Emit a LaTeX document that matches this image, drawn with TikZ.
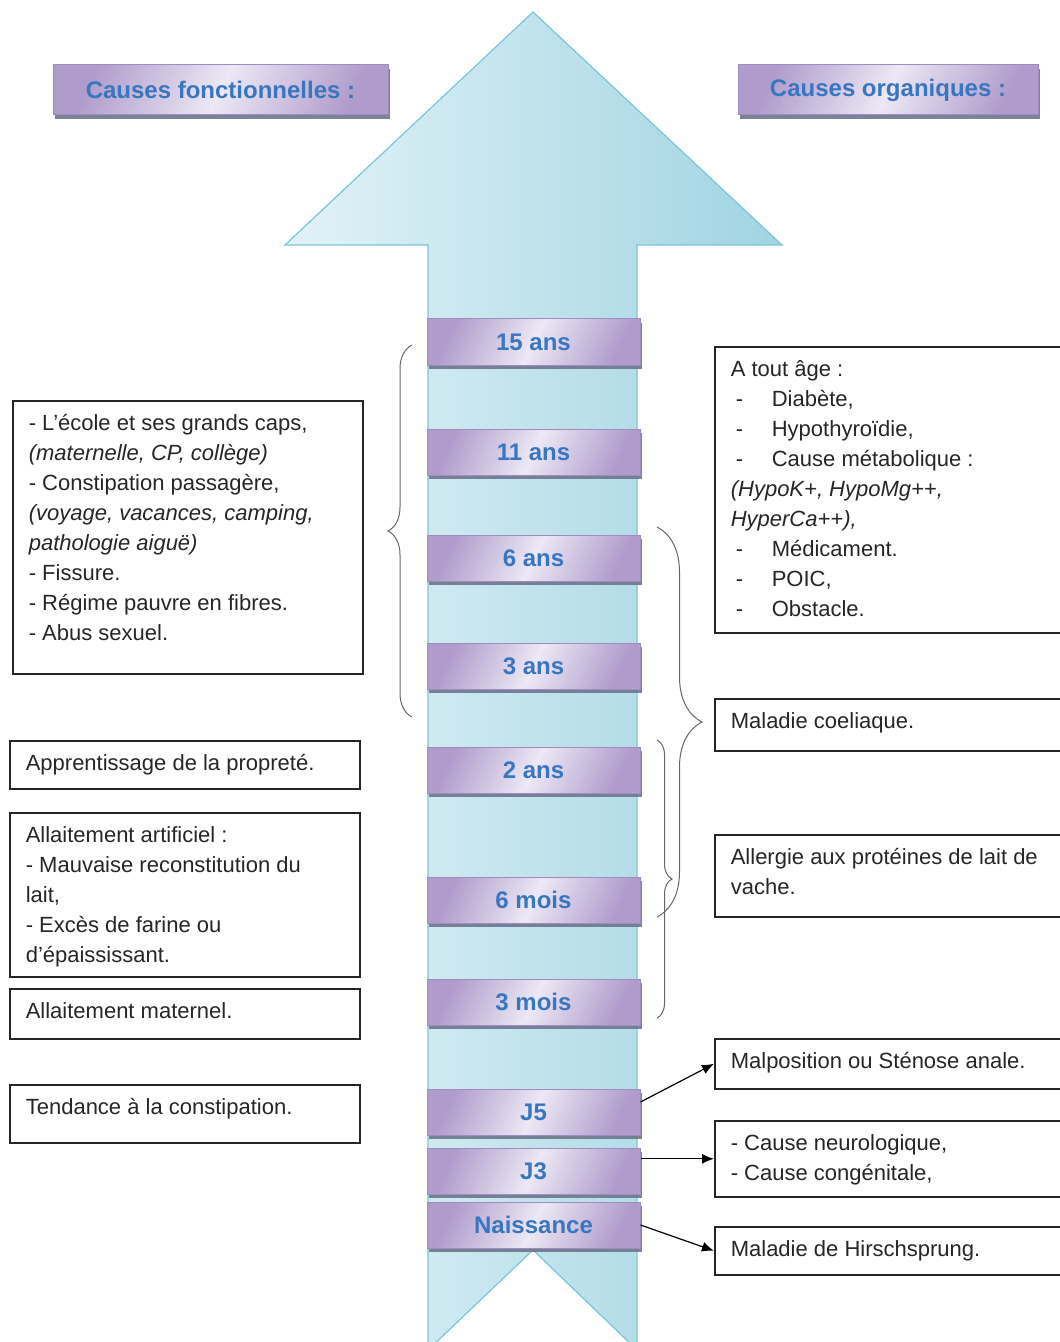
\documentclass[tikz,border=0pt]{standalone}
\usepackage{fontspec}
\setmainfont{Liberation Sans}
\usepackage{tikz}
\usetikzlibrary{arrows.meta,positioning,calc,decorations.pathreplacing,shadows}
\usepackage{xcolor}

\definecolor{arrowlight}{RGB}{226,242,247}
\definecolor{arrowdark}{RGB}{160,212,226}
\definecolor{arrowedge}{RGB}{122,199,216}
\definecolor{agelight}{RGB}{236,232,244}
\definecolor{agedark}{RGB}{176,156,204}
\definecolor{ageedge}{RGB}{160,140,192}
\definecolor{ageshadow}{RGB}{108,118,140}
\definecolor{agetext}{RGB}{56,118,192}

\newcommand{\boxtxt}[2]{\parbox[t][#1][t]{159pt}{\raggedright\strut#2}}
\newcommand{\tiret}{\makebox[20.5pt][l]{\hspace{2.5pt}-}}

\begin{document}
\begin{tikzpicture}[
    x=0.5pt, y=-0.5pt,
    age/.style={rectangle, draw=ageedge, line width=0.5pt, left color=agedark, right color=agedark, middle color=agelight, shading angle=65, minimum width=106.5pt, minimum height=23pt, inner sep=0pt, font=\fontsize{12}{14}\selectfont\bfseries, text=agetext, drop shadow={shadow xshift=0.8pt, shadow yshift=-2pt, fill=ageshadow, opacity=0.9}},
    cause/.style={rectangle, draw=black!85, line width=0.8pt, anchor=north west, inner xsep=8pt, inner ysep=4.5pt, font=\fontsize{11}{15}\selectfont, text=black!85},
    arrow/.style={-{Latex[length=6pt,width=5pt]}, line width=0.6pt},
    curly/.style={decorate, decoration={brace, amplitude=#1}, draw=black!60, line width=0.5pt}
]
\useasboundingbox (0,0) rectangle (1059,1342);

% Big arrow
\draw[draw=arrowedge, line width=0.6pt, left color=arrowlight, right color=arrowdark]
    (533,12) -- (782,245) -- (637,245) -- (637,1350) -- (533,1250) -- (428,1350) -- (428,245) -- (285,245) -- cycle;

% Headers
\node[age, minimum width=167.5pt, minimum height=25pt] (fonct) at (220.5,90) {Causes fonctionnelles :};
\node[age, minimum width=150pt, minimum height=25pt] (orga) at (888,90) {Causes organiques :};

% Ages
\node[age] (a15) at (533.5,342) {15 ans};
\node[age] (a11) at (533.5,452) {11 ans};
\node[age] (a6) at (533.5,558) {6 ans};
\node[age] (a3) at (533.5,666) {3 ans};
\node[age] (a2) at (533.5,770) {2 ans};
\node[age] (m6) at (533.5,900) {6 mois};
\node[age] (m3) at (533.5,1002) {3 mois};
\node[age] (j5) at (533.5,1112) {J5};
\node[age] (j3) at (533.5,1171) {J3};
\node[age] (nais) at (533.5,1225) {Naissance};

% Functional causes
\node[cause] (ecole) at (12,400) {\boxtxt{127.5pt}{- L’école et ses grands caps,\\
    \textit{(maternelle, CP, collège)}\\
    - Constipation passagère,\\
    \textit{(voyage, vacances, camping,}\\
    \textit{pathologie aiguë)}\\
    - Fissure.\\
    - Régime pauvre en fibres.\\
    - Abus sexuel.}};
\node[cause] (proprete) at (9,740) {\boxtxt{15pt}{Apprentissage de la propreté.}};
\node[cause] (artif) at (9,812) {\boxtxt{73pt}{Allaitement artificiel :\\
    - Mauvaise reconstitution du\\
    lait,\\
    - Excès de farine ou\\
    d’épaississant.}};
\node[cause] (materne) at (9,988) {\boxtxt{16pt}{Allaitement maternel.}};
\node[cause] (tendance) at (9,1084) {\boxtxt{20pt}{Tendance à la constipation.}};

% Organic causes
\node[cause] (toutage) at (714,346) {\boxtxt{134pt}{A tout âge :\\
    \tiret Diabète,\\
    \tiret Hypothyroïdie,\\
    \tiret Cause métabolique :\\
    \textit{(HypoK+, HypoMg++,}\\
    \textit{HyperCa++),}\\
    \tiret Médicament.\\
    \tiret POIC,\\
    \tiret Obstacle.}};
\node[cause] (coeli) at (714,698) {\boxtxt{17pt}{Maladie coeliaque.}};
\node[cause] (aplv) at (714,834) {\boxtxt{32pt}{Allergie aux protéines de lait de\\ vache.}};
\node[cause] (malpo) at (714,1038) {\boxtxt{16pt}{Malposition ou Sténose anale.}};
\node[cause] (neuro) at (714,1120) {\boxtxt{29pt}{- Cause neurologique,\\ - Cause congénitale,}};
\node[cause] (hirsch) at (714,1226) {\boxtxt{15pt}{Maladie de Hirschsprung.}};

% Braces
\draw[curly=12pt] (412,717) -- (412,345);
\draw[curly=22.5pt] (657,527) -- (657,917);
\draw[curly=7.5pt] (657,740) -- (657,1018);

% Arrows
\draw[arrow] ($(j5.east)+(0,-10)$) -- (malpo.west);
\draw[arrow] (neuro.west -| j3.east) -- (neuro.west);
\draw[arrow] (nais.east) -- (hirsch.west);

\end{tikzpicture}
\end{document}
